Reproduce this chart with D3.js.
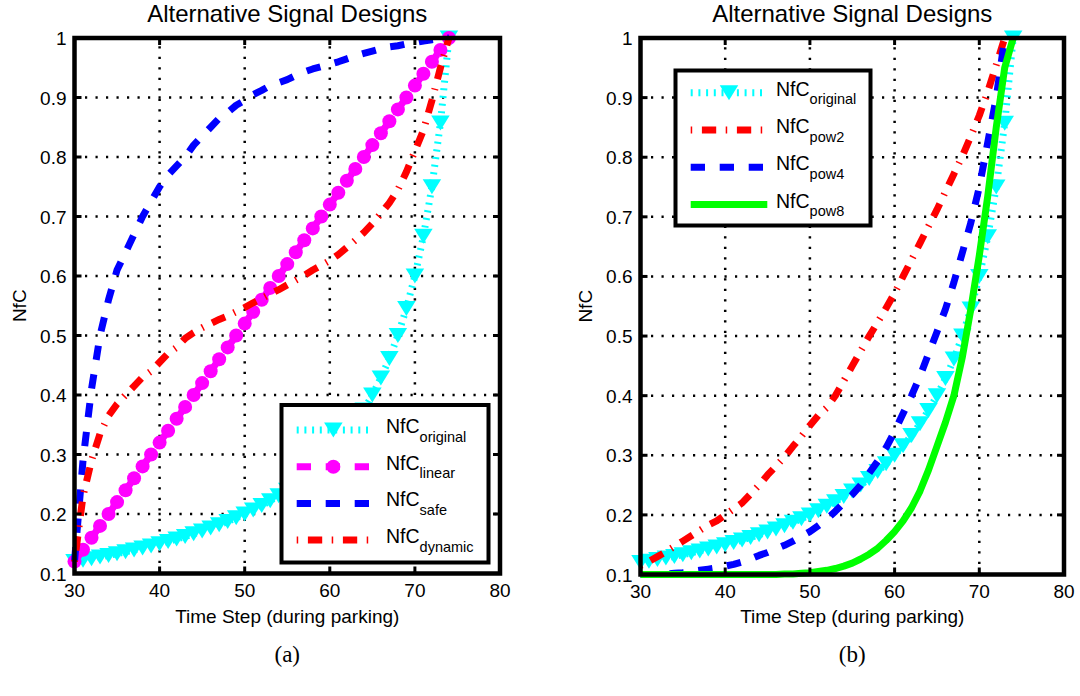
<!DOCTYPE html>
<html>
<head>
<meta charset="utf-8">
<script src="https://cdn.jsdelivr.net/npm/d3@7"></script>
<style>
body { margin: 0; background: #fff; }
svg { display: block; font-family: "Liberation Sans", Arial, sans-serif; }
</style>
</head>
<body>
<svg id="fig" width="1080" height="696"></svg>
<script>
// time steps (during parking)
var timeSteps = [30,31,32,33,34,35,36,37,38,39,40,41,42,43,44,45,46,47,48,49,50,51,52,
    53,54,55,56,57,58,59,60,61,62,63,64,65,66,67,68,69,70,71,72,73,74];
var timeStepsPow = [30,31,32,33,34,35,36,37,38,39,40,41,42,43,44,45,46,47,48,49,50,51,52,
    53,54,55,56,57,58,59,60,61,62,63,64,65,66,67,68,69,70,71,72,73];

var nfcOriginal = [0.12,0.1224,0.125,0.1277,0.1304,0.1333,0.1364,0.1395,0.1429,0.1463,0.15,
    0.1538,0.1579,0.1622,0.1667,0.1714,0.1765,0.1818,0.1875,0.1935,0.2,0.2069,0.2143,0.2222,
    0.2308,0.24,0.25,0.2609,0.2727,0.2857,0.3,0.3158,0.3333,0.3529,0.375,0.4,0.4286,0.4615,
    0.5,0.5455,0.6,0.6667,0.75,0.8571,1.0];
var nfcLinear = [0.12,0.14,0.16,0.18,0.20,0.22,0.24,0.26,0.28,0.30,0.32,0.34,0.36,0.38,0.40,
    0.42,0.44,0.46,0.48,0.50,0.52,0.54,0.56,0.58,0.60,0.62,0.64,0.66,0.68,0.70,0.72,0.74,0.76,
    0.78,0.80,0.82,0.84,0.86,0.88,0.90,0.92,0.94,0.96,0.98,1.00];
var nfcSafe = [0.12,0.29,0.41,0.50,0.56,0.61,0.64,0.67,0.70,0.725,0.75,0.77,0.785,0.80,0.82,
    0.835,0.85,0.865,0.875,0.887,0.895,0.905,0.912,0.92,0.925,0.93,0.937,0.943,0.948,0.952,
    0.956,0.96,0.965,0.97,0.974,0.978,0.982,0.985,0.987,0.99,0.992,0.995,0.997,0.999,1.0];
var nfcDynamic = [0.12,0.23,0.29,0.335,0.365,0.385,0.40,0.415,0.43,0.44,0.455,0.47,0.48,0.495,
    0.505,0.513,0.52,0.527,0.533,0.54,0.547,0.555,0.562,0.57,0.577,0.585,0.593,0.601,0.61,
    0.618,0.626,0.636,0.648,0.66,0.673,0.688,0.705,0.723,0.745,0.775,0.81,0.845,0.895,0.95,1.0];

var nfcPow2 = [0.115,0.122,0.13,0.138,0.147,0.156,0.165,0.174,0.183,0.19,0.2,0.21,0.22,0.235,
    0.25,0.267,0.282,0.297,0.315,0.332,0.35,0.367,0.38,0.4,0.425,0.45,0.475,0.5,0.523,0.547,
    0.572,0.6,0.628,0.656,0.684,0.712,0.742,0.772,0.802,0.835,0.87,0.91,0.955,1.0];
var nfcPow4 = [0.1,0.1,0.1,0.101,0.102,0.103,0.105,0.107,0.109,0.111,0.114,0.117,0.121,0.126,
    0.132,0.137,0.143,0.149,0.156,0.164,0.172,0.182,0.193,0.206,0.22,0.234,0.25,0.27,0.29,
    0.313,0.34,0.37,0.4,0.433,0.47,0.507,0.545,0.59,0.64,0.69,0.75,0.825,0.9,1.0];
var nfcPow8 = [0.1,0.1,0.1,0.1,0.1,0.1,0.1,0.1,0.1,0.1,0.1,0.1,0.1,0.1,0.1,0.1,0.1,0.101,
    0.101,0.102,0.103,0.105,0.107,0.11,0.114,0.119,0.126,0.134,0.144,0.157,0.172,0.19,0.212,
    0.24,0.275,0.315,0.355,0.40,0.465,0.545,0.635,0.735,0.85,0.95,1.0];

var xTicks = [30,40,50,60,70,80];
var yTicks = [0.1,0.2,0.3,0.4,0.5,0.6,0.7,0.8,0.9,1];
var yTickLabels = ["0.1","0.2","0.3","0.4","0.5","0.6","0.7","0.8","0.9","1"];

var CYAN = "#00ffff", MAGENTA = "#ff00ff", BLUE = "#0000ff", RED = "#ff0000", GREEN = "#00ff00";

var svg = d3.select("#fig");

// line styles (matlab-ish)
var styles = {
    dotted: "2,5.7",
    dashed: "14.3,14.7",
    dashdot: "1.5,9.7,14.3,9.5"
};

function triangle(g, x, y, color) {
    var w = 18.5, h = 15;
    g.append("path")
        .attr("d", "M" + (x - w / 2) + "," + (y - h / 2) + "L" + (x + w / 2) + "," + (y - h / 2) + "L" + x + "," + (y + h / 2) + "Z")
        .attr("fill", color);
}

function drawPanel(opt) {
    var x = d3.scaleLinear().domain([30, 80]).range([opt.left, opt.right]);
    var y = d3.scaleLinear().domain([0.1, 1]).range([opt.bottom, opt.top]);
    var g = svg.append("g");

    // grid
    g.selectAll(".vgrid").data(xTicks.slice(1, -1)).enter().append("line")
        .attr("x1", d => x(d)).attr("x2", d => x(d))
        .attr("y1", opt.bottom).attr("y2", opt.top)
        .attr("stroke", "#000").attr("stroke-width", 2.5).attr("stroke-dasharray", "2.2,8.3");
    g.selectAll(".hgrid").data(yTicks.slice(1, -1)).enter().append("line")
        .attr("y1", d => y(d)).attr("y2", d => y(d))
        .attr("x1", opt.left).attr("x2", opt.right)
        .attr("stroke", "#000").attr("stroke-width", 2.5).attr("stroke-dasharray", "2.2,8.3");

    // series
    opt.series.forEach(function (s) {
        var pts = s.t.map((t, i) => [x(t), y(s.v[i])]);
        g.append("path")
            .attr("d", d3.line()(pts))
            .attr("fill", "none")
            .attr("stroke", s.color)
            .attr("stroke-width", 7)
            .attr("stroke-dasharray", s.dash)
            .attr("stroke-linejoin", "round");
        if (s.marker == "v") {
            pts.forEach(p => triangle(g, p[0], p[1], s.color));
        } else if (s.marker == "o") {
            pts.forEach(p => g.append("circle").attr("cx", p[0]).attr("cy", p[1]).attr("r", 7).attr("fill", s.color));
        }
    });

    // axes box
    g.append("rect")
        .attr("x", opt.left).attr("y", opt.top)
        .attr("width", opt.right - opt.left).attr("height", opt.bottom - opt.top)
        .attr("fill", "none").attr("stroke", "#000").attr("stroke-width", 4.5);

    // ticks (inside, all four sides)
    xTicks.slice(1, -1).forEach(function (d) {
        g.append("line").attr("x1", x(d)).attr("x2", x(d)).attr("y1", opt.bottom).attr("y2", opt.bottom - 7)
            .attr("stroke", "#000").attr("stroke-width", 3);
        g.append("line").attr("x1", x(d)).attr("x2", x(d)).attr("y1", opt.top).attr("y2", opt.top + 7)
            .attr("stroke", "#000").attr("stroke-width", 3);
    });
    yTicks.slice(1, -1).forEach(function (d) {
        g.append("line").attr("y1", y(d)).attr("y2", y(d)).attr("x1", opt.left).attr("x2", opt.left + 7)
            .attr("stroke", "#000").attr("stroke-width", 3);
        g.append("line").attr("y1", y(d)).attr("y2", y(d)).attr("x1", opt.right).attr("x2", opt.right - 7)
            .attr("stroke", "#000").attr("stroke-width", 3);
    });

    // tick labels
    g.selectAll(".xl").data(xTicks).enter().append("text")
        .attr("x", d => x(d)).attr("y", opt.bottom + 23)
        .attr("text-anchor", "middle").attr("font-size", 19).text(d => d);
    g.selectAll(".yl").data(yTicks).enter().append("text")
        .attr("x", opt.left - 8).attr("y", d => y(d) + 7)
        .attr("text-anchor", "end").attr("font-size", 19).text((d, i) => yTickLabels[i]);

    // labels
    g.append("text").attr("x", (opt.left + opt.right) / 2).attr("y", 22)
        .attr("text-anchor", "middle").attr("font-size", 24).text("Alternative Signal Designs");
    g.append("text").attr("x", (opt.left + opt.right) / 2).attr("y", 623)
        .attr("text-anchor", "middle").attr("font-size", 19).text("Time Step (during parking)");
    g.append("text")
        .attr("transform", "translate(" + (opt.left - 49) + "," + ((opt.top + opt.bottom) / 2) + ")rotate(-90)")
        .attr("text-anchor", "middle").attr("font-size", 19).text("NfC");

    // legend
    var L = opt.legend;
    g.append("rect").attr("x", L.x).attr("y", L.y).attr("width", L.w).attr("height", L.h)
        .attr("fill", "#fff").attr("stroke", "#000").attr("stroke-width", 4);
    opt.series.forEach(function (s, i) {
        var ry = L.row0 + i * L.rowStep;
        g.append("line").attr("x1", L.s1).attr("x2", L.s2).attr("y1", ry).attr("y2", ry)
            .attr("stroke", s.color).attr("stroke-width", 7).attr("stroke-dasharray", s.dash);
        var mx = (L.s1 + L.s2) / 2;
        if (s.marker == "v") triangle(g, mx, ry, s.color);
        if (s.marker == "o") g.append("circle").attr("cx", mx).attr("cy", ry).attr("r", 7).attr("fill", s.color);
        var txt = g.append("text").attr("x", L.tx).attr("y", ry + 3).attr("font-size", 19.5);
        txt.append("tspan").text("NfC");
        txt.append("tspan").attr("font-size", 14.5).attr("dy", 8.5).text(s.sub);
    });

    g.append("text").attr("x", (opt.left + opt.right) / 2).attr("y", 662)
        .attr("text-anchor", "middle").attr("font-size", 23)
        .attr("font-family", "'Liberation Serif', 'DejaVu Serif', serif").text(opt.caption);
}

drawPanel({
    left: 74.5, right: 500, top: 38, bottom: 573.5, caption: "(a)",
    series: [
        { t: timeSteps, v: nfcOriginal, color: CYAN, dash: styles.dotted, marker: "v", sub: "original" },
        { t: timeSteps, v: nfcLinear, color: MAGENTA, dash: styles.dashed, marker: "o", sub: "linear" },
        { t: timeSteps, v: nfcSafe, color: BLUE, dash: styles.dashed, sub: "safe" },
        { t: timeSteps, v: nfcDynamic, color: RED, dash: styles.dashdot, sub: "dynamic" }
    ],
    legend: { x: 281.5, y: 405, w: 207, h: 157.5, row0: 430, rowStep: 36.7, s1: 296.7, s2: 370, tx: 386 }
});

drawPanel({
    left: 640.5, right: 1064, top: 38, bottom: 574.5, caption: "(b)",
    series: [
        { t: timeSteps, v: nfcOriginal, color: CYAN, dash: styles.dotted, marker: "v", sub: "original" },
        { t: timeStepsPow, v: nfcPow2, color: RED, dash: styles.dashdot, sub: "pow2" },
        { t: timeStepsPow, v: nfcPow4, color: BLUE, dash: styles.dashed, sub: "pow4" },
        { t: timeSteps, v: nfcPow8, color: GREEN, dash: null, sub: "pow8" }
    ],
    legend: { x: 675.5, y: 70.5, w: 195, h: 155, row0: 92.7, rowStep: 37.3, s1: 690.7, s2: 767.3, tx: 776 }
});
</script>
</body>
</html>
